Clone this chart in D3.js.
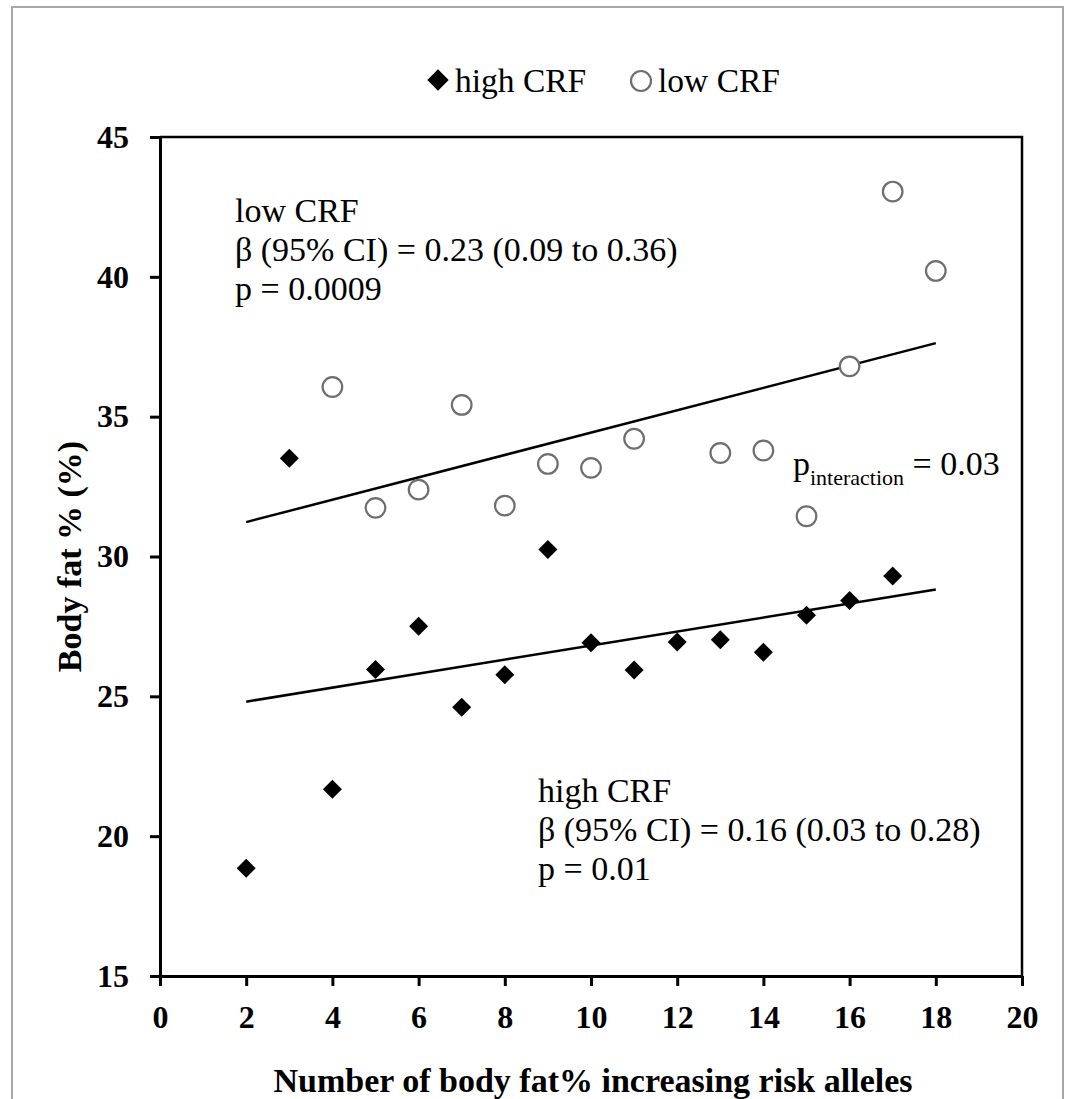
<!DOCTYPE html>
<html>

<head>
    <meta charset="utf-8">
    <title>Body fat % by risk alleles</title>
    <style>
        body { margin: 0; background: #fff; }
        text { font-family: "Liberation Serif", "Times New Roman", serif; }
    </style>
</head>

<body>
    <svg class="chart"></svg>
    <script src="https://cdn.jsdelivr.net/npm/d3@7"></script>
    <script>
        // high CRF group (diamonds)
        const highAlleles = [2, 3, 4, 5, 6, 7, 8, 9, 10, 11, 12, 13, 14, 15, 16, 17]
        const highFat = [18.85, 33.51, 21.68, 25.96, 27.51, 24.61, 25.77, 30.25, 26.92, 25.94, 26.94, 27.02, 26.58, 27.9, 28.43, 29.3]

        // low CRF group (open circles)
        const lowAlleles = [4, 5, 6, 7, 8, 9, 10, 11, 13, 14, 15, 16, 17, 18]
        const lowFat = [36.06, 31.74, 32.39, 35.42, 31.82, 33.31, 33.17, 34.21, 33.7, 33.79, 31.44, 36.8, 43.05, 40.21]

        // fitted lines, end points
        const highFit = [[2, 24.81], [18, 28.82]]
        const lowFit = [[2, 31.23], [18, 37.63]]

        const xTicks = [0, 2, 4, 6, 8, 10, 12, 14, 16, 18, 20]
        const yTicks = [15, 20, 25, 30, 35, 40, 45]

        const lowText = ["low CRF", "β (95% CI) = 0.23 (0.09 to 0.36)", "p = 0.0009"]
        const highText = ["high CRF", "β (95% CI) = 0.16 (0.03 to 0.28)", "p = 0.01"]

        var width = 1068, height = 1099
        const margin = { left: 160, right: 46, top: 137, down: 123 }

        var svg = d3.select(".chart")
            .attr("width", width)
            .attr("height", height)

        // light frame round the whole figure
        svg.append("rect")
            .attr("x", 12).attr("y", 7)
            .attr("width", 1051).attr("height", 1120)
            .attr("fill", "none")
            .attr("stroke", "#a8a8a8")
            .attr("stroke-width", 2)

        var xScale = d3.scaleLinear()
            .domain([0, 20])
            .range([margin.left, width - margin.right])

        var yScale = d3.scaleLinear()
            .domain([15, 45])
            .range([height - margin.down, margin.top])

        // top and right edges of the box
        svg.append("path")
            .attr("d", `M${xScale(0)},${yScale(45)}H${xScale(20)}V${yScale(15)}`)
            .attr("fill", "none")
            .attr("stroke", "black")
            .attr("stroke-width", 2.5)

        var xAxis = svg.append("g")
            .attr("transform", `translate(0, ${yScale(15)})`)
            .call(d3.axisBottom(xScale).tickValues(xTicks).tickSize(10).tickSizeOuter(0).tickPadding(19))

        var yAxis = svg.append("g")
            .attr("transform", `translate(${xScale(0)}, 0)`)
            .call(d3.axisLeft(yScale).tickValues(yTicks).tickSize(10).tickSizeOuter(0).tickPadding(21))

        svg.selectAll(".domain, .tick line")
            .attr("stroke", "black")
            .attr("stroke-width", 3)

        svg.selectAll(".tick text")
            .style("font-family", "'Liberation Serif', serif")
            .style("font-weight", "bold")
            .style("font-size", "32px")
            .attr("fill", "black")

        // axis titles
        svg.append("text")
            .attr("x", 593)
            .attr("y", 1092)
            .attr("text-anchor", "middle")
            .style("font-weight", "bold")
            .style("font-size", "34px")
            .text("Number of body fat% increasing risk alleles")

        svg.append("text")
            .attr("transform", `translate(81, ${(yScale(15) + yScale(45)) / 2}) rotate(-90)`)
            .attr("text-anchor", "middle")
            .style("font-weight", "bold")
            .style("font-size", "34px")
            .text("Body fat % (%)")

        // regression lines
        var line = d3.line()
            .x(d => xScale(d[0]))
            .y(d => yScale(d[1]))

        svg.append("path").attr("d", line(lowFit))
            .attr("stroke", "black").attr("stroke-width", 2.5).attr("fill", "none")
        svg.append("path").attr("d", line(highFit))
            .attr("stroke", "black").attr("stroke-width", 2.5).attr("fill", "none")

        var diamond = d3.symbol().type(d3.symbolDiamond2).size(230)

        svg.append("g")
            .selectAll("path.high")
            .data(highAlleles.map((a, i) => ({ x: a, y: highFat[i] })))
            .enter()
            .append("path")
            .classed("high", true)
            .attr("d", diamond)
            .attr("transform", d => `translate(${xScale(d.x)}, ${yScale(d.y)})`)
            .attr("fill", "black")

        svg.append("g")
            .selectAll("circle.low")
            .data(lowAlleles.map((a, i) => ({ x: a, y: lowFat[i] })))
            .enter()
            .append("circle")
            .classed("low", true)
            .attr("cx", d => xScale(d.x))
            .attr("cy", d => yScale(d.y))
            .attr("r", 9.8)
            .attr("fill", "white")
            .attr("stroke", "#6e6e6e")
            .attr("stroke-width", 2.2)

        // annotations
        function block(lines, x, y0) {
            svg.append("g")
                .selectAll("text")
                .data(lines)
                .enter()
                .append("text")
                .attr("x", x)
                .attr("y", (d, i) => y0 + i * 39)
                .style("font-size", "34px")
                .text(d => d)
        }
        block(lowText, 235, 222)
        block(highText, 538, 802)

        var pint = svg.append("text")
            .attr("x", 793)
            .attr("y", 475)
            .style("font-size", "34px")
        pint.append("tspan").text("p")
        pint.append("tspan").attr("dy", 10).style("font-size", "22px").text("interaction")
        pint.append("tspan").attr("dy", -10).text(" = 0.03")

        // legend
        var legend = svg.append("g")
        legend.append("path")
            .attr("d", d3.symbol().type(d3.symbolDiamond2).size(290))
            .attr("transform", "translate(438, 80)")
            .attr("fill", "black")
        legend.append("text")
            .attr("x", 455).attr("y", 92)
            .style("font-size", "33.5px")
            .text("high CRF")
        legend.append("circle")
            .attr("cx", 641).attr("cy", 81).attr("r", 10)
            .attr("fill", "white")
            .attr("stroke", "#6e6e6e")
            .attr("stroke-width", 2.2)
        legend.append("text")
            .attr("x", 658).attr("y", 92)
            .style("font-size", "33.5px")
            .text("low CRF")
    </script>
</body>

</html>
